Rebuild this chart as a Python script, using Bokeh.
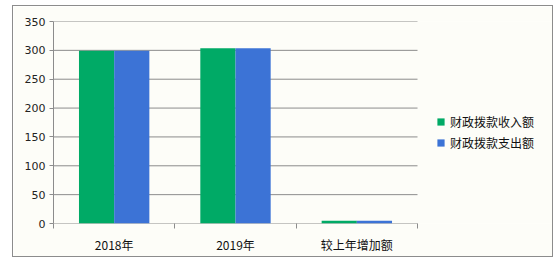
from bokeh.plotting import figure
from bokeh.models import FixedTicker, Legend, LegendItem, Range1d
from bokeh.embed import file_html
from bokeh.resources import INLINE

categories = ["2018年", "2019年", "较上年增加额"]
income = [299.5, 303.5, 4.6]
expense = [299.5, 303.5, 4.6]
series_names = ["财政拨款收入额", "财政拨款支出额"]
y_ticks = [0, 50, 100, 150, 200, 250, 300, 350]

GREEN = "#00aa66"
BLUE = "#3c73d6"
BG = "#fdfdf8"
GRID = "#8c8c8c"
CJK = "Noto Sans CJK SC"

n = len(categories)
# the plotting area is 364px wide out of a 501px frame; the rest holds the legend
x_end = n * 501 / 364

p = figure(width=541, height=252, output_backend="svg", toolbar_location=None,
           x_range=Range1d(0, x_end), y_range=Range1d(0, 350),
           min_border_left=40, min_border_right=0, min_border_top=15, min_border_bottom=35)
p.margin = (5, 6, 7, 12)
p.styles = {"border": "1px solid #8c8c8c", "box-sizing": "border-box"}
p.background_fill_color = BG
p.border_fill_color = BG
p.outline_line_color = None

# horizontal gridlines limited to the category area
p.segment(x0=[0] * len(y_ticks), x1=[n] * len(y_ticks), y0=y_ticks, y1=y_ticks,
          line_color=GRID, line_width=1)

xs = [i + 0.5 for i in range(n)]
off = 0.145
w = 0.29
r1 = p.vbar(x=[x - off for x in xs], top=income, width=w, color=GREEN, line_color=None)
r2 = p.vbar(x=[x + off for x in xs], top=expense, width=w, color=BLUE, line_color=None)

# y axis
p.yaxis.ticker = FixedTicker(ticks=y_ticks)
p.yaxis.axis_line_color = GRID
p.yaxis.major_tick_line_color = GRID
p.yaxis.major_tick_out = 4
p.yaxis.major_tick_in = 0
p.yaxis.minor_tick_line_color = None
p.yaxis.major_label_text_font = "DejaVu Sans"
p.yaxis.major_label_text_font_size = "11px"
p.yaxis.major_label_text_color = "#222222"
p.yaxis.major_label_standoff = 4

# x axis
p.xaxis.ticker = FixedTicker(ticks=xs, minor_ticks=list(range(n + 1)))
p.xaxis.major_label_overrides = {x: c for x, c in zip(xs, categories)}
p.xaxis.axis_line_color = None
p.xaxis.major_tick_line_color = None
p.xaxis.minor_tick_line_color = GRID
p.xaxis.minor_tick_out = 5
p.xaxis.minor_tick_in = 0
p.xaxis.major_label_text_font = CJK
p.xaxis.major_label_text_font_size = "12px"
p.xaxis.major_label_text_color = "#111111"
p.xaxis.major_label_standoff = 6

p.xgrid.grid_line_color = None
p.ygrid.grid_line_color = None

legend = Legend(items=[LegendItem(label=series_names[0], renderers=[r1]),
                       LegendItem(label=series_names[1], renderers=[r2])],
                location=(383, 72), orientation="vertical")
legend.background_fill_alpha = 0
legend.border_line_color = None
legend.glyph_width = 9
legend.glyph_height = 9
legend.label_standoff = 5
legend.spacing = 4
legend.padding = 0
legend.margin = 0
legend.label_text_font = CJK
legend.label_text_font_size = "12px"
legend.label_text_color = "#111111"
p.add_layout(legend, "center")

open("out.html", "w").write(file_html(p, INLINE))
